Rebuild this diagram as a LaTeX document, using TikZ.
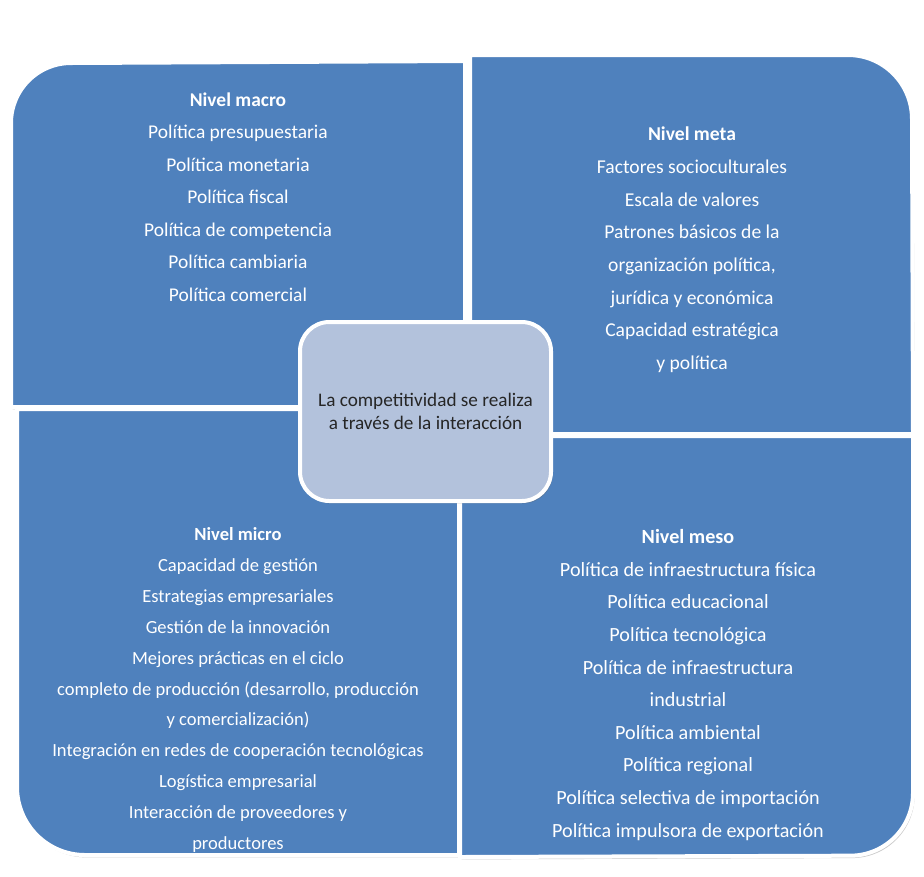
\documentclass[tikz,border=0pt]{standalone}
\usepackage{fontspec}
\setmainfont{Carlito}
\usetikzlibrary{shadows}
\definecolor{quadblue}{HTML}{4F81BD}
\definecolor{centerfill}{HTML}{B3C2DC}
\definecolor{centertext}{HTML}{262626}
\tikzset{
  quad/.style={fill=quadblue, draw=white, line width=3pt,
    drop shadow={shadow xshift=1.2pt, shadow yshift=-1.8pt, opacity=0.35, fill=black!60}},
  quadtext/.style={text=white, align=center, inner sep=0pt},
  centerbox/.style={fill=centerfill, draw=white, line width=3pt, rounded corners=22pt,
    drop shadow={shadow xshift=1.2pt, shadow yshift=-1.8pt, opacity=0.35, fill=black!60}},
}
\begin{document}
\begin{tikzpicture}[x=0.75pt, y=-0.75pt]
\useasboundingbox (0,0) rectangle (924,876);
% macro (top-left)
\path[quad] (465,407) -- (11,407) -- (11,123) arc[start angle=180, end angle=90, radius=45pt] -- (465,61) -- cycle;
% meta (top-right)
\path[quad] (470,434) -- (470,55) -- (848,55) arc[start angle=90, end angle=0, radius=48pt] -- (913,434) -- cycle;
% micro (bottom-left)
\path[quad] (17,409) -- (459,409) -- (459,855) -- (85,855) arc[start angle=270, end angle=180, radius=51pt] -- cycle;
% meso (bottom-right)
\path[quad] (460,436) -- (913,436) -- (913,793) arc[start angle=0, end angle=-90, radius=47pt] -- (460,857) -- cycle;
% centre
\path[centerbox] (300,322) rectangle (551,501);
\node[quadtext, font=\fontsize{14.6}{24.4}\selectfont] (macro) at (238,197) {\textbf{Nivel macro}\\Política presupuestaria\\Política monetaria\\Política fiscal\\Política de competencia\\Política cambiaria\\Política comercial};
\node[quadtext, font=\fontsize{14.7}{24.5}\selectfont] (meta) at (692,250) {\textbf{Nivel meta}\\Factores socioculturales\\Escala de valores\\Patrones básicos de la\\organización política,\\jurídica y económica\\Capacidad estratégica\\y política};
\node[quadtext, font=\fontsize{13.9}{23.2}\selectfont] (micro) at (238,690) {\textbf{Nivel micro}\\Capacidad de gestión\\Estrategias empresariales\\Gestión de la innovación\\Mejores prácticas en el ciclo\\completo de producción (desarrollo, producción\\y comercialización)\\Integración en redes de cooperación tecnológicas\\Logística empresarial\\Interacción de proveedores y\\productores};
\node[quadtext, font=\fontsize{15.1}{24.45}\selectfont] (meso) at (688,685) {\textbf{Nivel meso}\\Política de infraestructura física\\Política educacional\\Política tecnológica\\Política de infraestructura\\industrial\\Política ambiental\\Política regional\\Política selectiva de importación\\Política impulsora de exportación};
\node[text=centertext, align=center, inner sep=0pt, font=\fontsize{14.4}{17.25}\selectfont] (centre) at (425.5,411.5) {La competitividad se realiza\\a través de la interacción};
\end{tikzpicture}
\end{document}
